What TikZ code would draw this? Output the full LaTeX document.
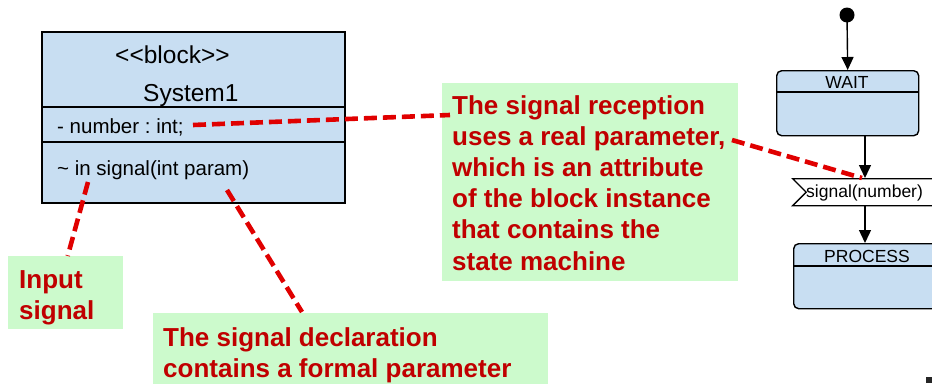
\documentclass[tikz,border=0pt]{standalone}
\usepackage{fontspec}
\setmainfont{Liberation Sans}
\usetikzlibrary{arrows.meta,shapes.symbols}
\definecolor{blockblue}{HTML}{C8DEF2}
\definecolor{notegreen}{HTML}{CCFACC}
\definecolor{notered}{HTML}{C00000}
\definecolor{hintred}{HTML}{E00000}
\frenchspacing
\tikzset{
  note/.style     = {fill=notegreen, inner sep=0pt, anchor=north west},
  notetext/.style = {text=notered, font=\fontsize{26}{31.2}\selectfont\bfseries,
                     align=left, inner sep=0pt, anchor=north west},
  umltext/.style  = {font=\fontsize{20.5}{24}\selectfont, inner sep=0pt, anchor=base west},
  statebox/.style = {draw, line width=1.4pt, fill=blockblue, rounded corners=5pt,
                     inner sep=0pt, anchor=north west},
  statetext/.style= {font=\fontsize{17.5}{20}\selectfont, inner sep=0pt},
  hint/.style     = {draw=hintred, line width=4.6pt, dash pattern=on 13pt off 6pt},
  flow/.style     = {line width=1.4pt, -{Triangle[length=13pt,width=12pt]}}
}
\begin{document}
\begin{tikzpicture}[x=1pt,y=-1pt]
\useasboundingbox (0,0) rectangle (932,383);
\clip (0,0) rectangle (932,383);
%%
%% block
\draw [line width=1.8pt, fill=blockblue] (42,32) rectangle (345,203);
\draw [line width=1.8pt] (42,107) -- (345,107);
\draw [line width=1.8pt] (42,142) -- (345,142);
\node [umltext, font=\fontsize{24.5}{28}\selectfont] (stereo) at (115,63) {<{}<block>{}>};
\node [umltext, font=\fontsize{24.5}{28}\selectfont] (bname)  at (143,101) {System1};
\node [umltext] (attr) at (57,133) {- number : int;};
\node [umltext] (oper) at (57,175) {\char`\~{} in signal(int param)};
%%
%% state machine
\fill (847,15) circle [radius=7.5];
\coordinate (init) at (847,15);
\coordinate (col)  at (865,0);   % line of the lower transitions
\node [statebox, minimum width=142, minimum height=65] (wait) at (776,70) {};
\draw [line width=1.4pt] (wait.west |- 0,92) -- (wait.east |- 0,92);
\node [statetext, anchor=base] (waitname) at (847,88) {WAIT};
\node [signal, signal from=west, signal to=nowhere, draw, line width=1.4pt,
       fill=white, minimum width=175, minimum height=27, inner sep=0pt,
       anchor=north west] (sig) at (791,178) {};
\node [statetext, anchor=base west] (signame) at (806,197) {signal(number)};
\node [statebox, minimum width=170, minimum height=65] (process) at (793,243) {};
\draw [line width=1.4pt] (process.west |- 0,266) -- (process.east |- 0,266);
\node [statetext, anchor=base] (procname) at (867,262) {PROCESS};
\draw [flow] (init) -- (wait.north);
\draw [flow] (col |- wait.south) -- (col |- sig.north);
\draw [flow] (col |- sig.south) -- (col |- process.north);
%%
%% notes
\node [note, minimum width=296, minimum height=198] (reception) at (442,83) {};
\node [notetext] (recepttext) at (452,95) {The signal reception\\uses a real parameter,\\which is an attribute\\of the block instance\\that contains the\\state machine};
\node [note, minimum width=115, minimum height=73] (input) at (8,256) {};
\node [notetext] (inputtext) at (19,270) {Input\\signal};
\node [note, minimum width=395, minimum height=75] (decl) at (153,313) {};
\node [notetext] (decltext) at (163,327) {The signal declaration\\contains a formal parameter};
%%
%% red hints
\coordinate (attrend)  at (193,125);
\coordinate (recvin)   at (450,115);
\coordinate (recvout)  at (732,140);
\coordinate (insig)    at (88,182);
\coordinate (param)    at (227,190);
\coordinate (declin)   at (302,312);
\draw [hint] (attrend) -- (recvin);
\draw [hint] (recvout) -- ([xshift=-3pt]col |- sig.north);
\draw [hint] (insig) -- ([xshift=2pt]input.north);
\draw [hint] (param) -- (declin);
%% corner mark
\fill [black!85] (926,377) rectangle (932,383);
\end{tikzpicture}
\end{document}
